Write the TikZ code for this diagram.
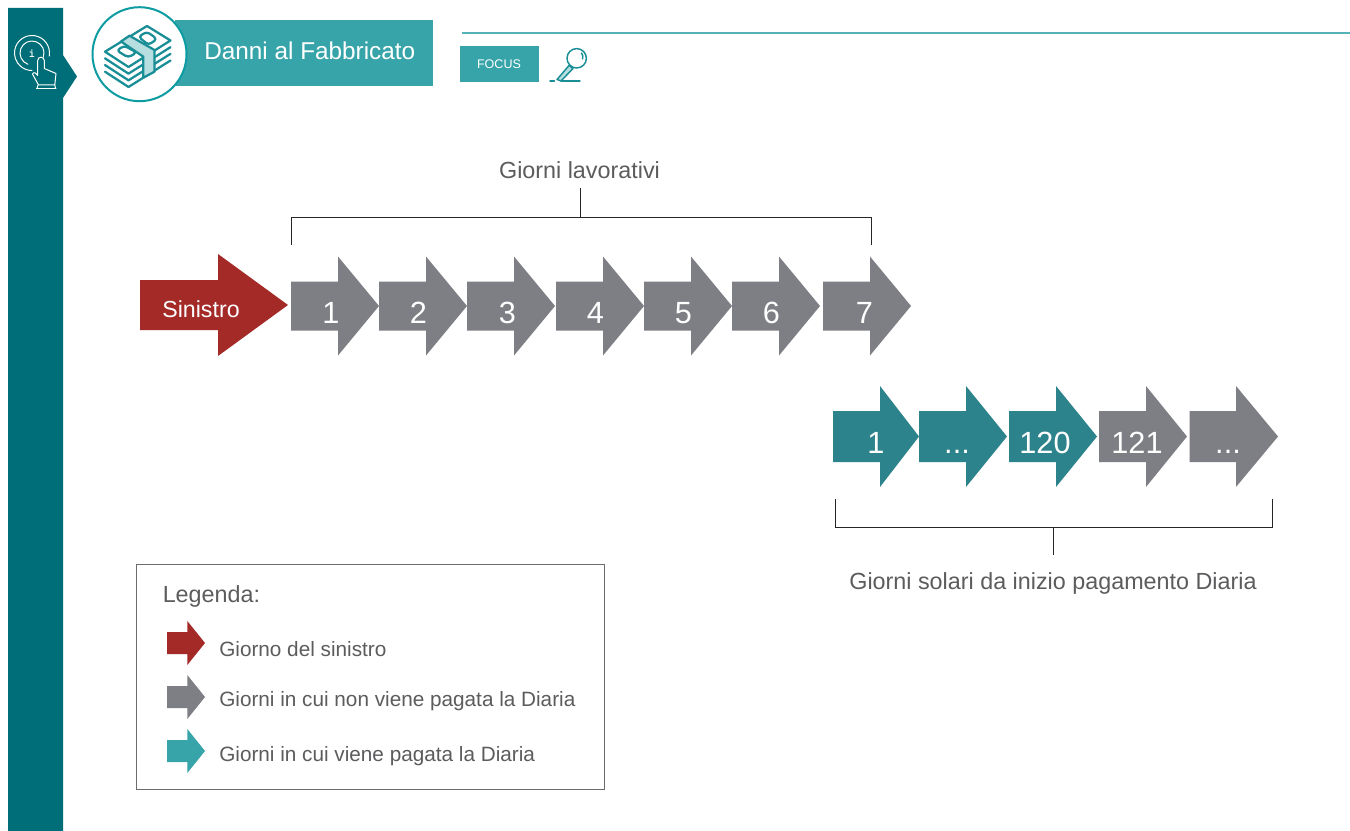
\documentclass[tikz,border=0pt]{standalone}
\usepackage{fontspec}
\setmainfont{Liberation Sans}
\definecolor{sidebar}{HTML}{006E78}
\definecolor{tealhead}{HTML}{36A4A9}
\definecolor{ringteal}{HTML}{0E9CA3}
\definecolor{darkline}{HTML}{1A8E96}
\definecolor{bandlight}{HTML}{B7DEE0}
\definecolor{arrred}{HTML}{A32A27}
\definecolor{arrgray}{HTML}{7E7F84}
\definecolor{arrteal}{HTML}{2D838B}
\definecolor{txtgray}{HTML}{5C5C5E}
\newcommand{\bigarrow}[8]{% name, x0, x1, headx, cy, bodyhalf, headhalf, colour
  \fill[#8] (#2,#5-#6) -- (#4,#5-#6) -- (#4,#5-#7) -- (#3,#5) -- (#4,#5+#7) -- (#4,#5+#6) -- (#2,#5+#6) -- cycle;
  \coordinate (#1) at (#2,#5);
}
\tikzset{
  arrowlabel/.style={text=white,font=\fontsize{23}{23}\selectfont,inner sep=0pt,anchor=base},
  caption/.style={text=txtgray,font=\fontsize{17.5}{20}\selectfont,inner sep=0pt,anchor=base},
  legendtext/.style={text=txtgray,font=\fontsize{15.55}{18}\selectfont,inner sep=0pt,anchor=base west},
  bracket/.style={draw=black!85,line width=0.7pt},
  icon/.style={draw=darkline,line width=1.7pt,line join=round,line cap=round}
}
\begin{document}
\begin{tikzpicture}[x=0.75pt,y=-0.75pt]
\useasboundingbox (0,0) rectangle (1350,831);
\fill[white] (0,0) rectangle (1350,831);
% side bar
\fill[sidebar] (8,8) -- (63,8) -- (63,55) -- (77,76.5) -- (63,98) -- (63,831) -- (8,831) -- cycle;
% info-hand icon
\begin{scope}[draw=white,line width=0.75pt,line cap=round,line join=round]
\draw (32,53) ++(10:17.5) arc[start angle=10,end angle=-270,radius=17.5];
\draw (32,53) ++(20:12) arc[start angle=20,end angle=-250,radius=12];
\draw (37.7,75.5) -- (37.7,60.5) arc[start angle=180,end angle=360,radius=3.3] -- (44.3,68.5)
 -- (56,73.5) -- (54.8,85) -- (38.5,85) -- (32.5,74) arc[start angle=200,end angle=330,radius=2] -- (37.7,75.5);
\draw (36.5,88.5) -- (56,88.5);
\draw (38,85) -- (37,88.5);
\draw (54.8,85) -- (55.5,88.5);
\end{scope}
\node[text=white,inner sep=0pt,font=\fontsize{9.5}{9.5}\ttfamily\bfseries] (infoi) at (32,53.5) {i};
% header
\fill[tealhead] (175,20) rectangle (433,86);
\node[text=white,font=\fontsize{18.25}{20}\selectfont,inner sep=0pt,anchor=base west] (title) at (204,60) {Danni al Fabbricato};
\fill[white] (139.5,54.2) circle[radius=47];
\draw[ringteal,line width=1.5pt] (139.5,54.2) circle[radius=47];
% money icon
\begin{scope}[icon]
\foreach \d in {20,40,60}{
  \draw (105,{51.7+\d/3}) -- (128.5,{67+\d/3}) -- (170.5,{40.5+\d/3});
}
\draw (105,51.7) -- (147,26) -- (170.5,40.5) -- (128.5,67) -- cycle;
\draw[rounded corners=2.5] (116.7,50.5) -- (124.3,45.7) -- (136.7,52.5) -- (128.3,57.5) -- cycle;
\draw[rounded corners=2.5] (138.5,36.7) -- (147,31.7) -- (157,39) -- (148.5,45) -- cycle;
\draw[fill=bandlight] (121,41.5) -- (129.5,35.7) -- (154.5,50) -- (154.5,71.7) -- (143.3,77.7) -- (143.3,56.7) -- cycle;
\end{scope}
% top rule and focus
\draw[tealhead!85,line width=1pt] (462,33) -- (1350,33);
\fill[tealhead] (460,46) rectangle (539,82);
\node[text=white,font=\fontsize{9.4}{10}\selectfont,inner sep=0pt] (focus) at (499,64.5) {FOCUS};
\begin{scope}[draw=darkline,line width=1.1pt,line cap=round,line join=round]
\draw (576.7,58.3) circle[radius=9.7];
\draw (581.5,53) arc[start angle=-40,end angle=20,radius=6];
\draw[fill=bandlight] (569,65.5) -- (557,79.5) -- (561,81) -- (573,68.5) -- cycle;
\draw (561,81) -- (580,81);
\draw (550,81) -- (554.5,81);
\end{scope}
% sinistro
\bigarrow{asin}{140}{288}{218}{305}{25}{51}{arrred}
\node[text=white,font=\fontsize{17.4}{18}\selectfont,inner sep=0pt,anchor=base] (lsin) at (201,317) {Sinistro};
% grey row
\bigarrow{a1}{291}{379}{338}{306}{24.5}{49.5}{arrgray}
\bigarrow{a2}{379}{467}{426}{306}{24.5}{49.5}{arrgray}
\bigarrow{a3}{467}{555}{514}{306}{24.5}{49.5}{arrgray}
\bigarrow{a4}{556}{644}{603}{306}{24.5}{49.5}{arrgray}
\bigarrow{a5}{644}{732}{691}{306}{24.5}{49.5}{arrgray}
\bigarrow{a6}{732}{820}{779}{306}{24.5}{49.5}{arrgray}
\bigarrow{a7}{823}{911}{870}{306}{24.5}{49.5}{arrgray}
\node[arrowlabel] (n1) at (331,323) {1};
\node[arrowlabel] (n2) at (418.5,323) {2};
\node[arrowlabel] (n3) at (507.5,323) {3};
\node[arrowlabel] (n4) at (595.5,323) {4};
\node[arrowlabel] (n5) at (683.5,323) {5};
\node[arrowlabel] (n6) at (771.5,323) {6};
\node[arrowlabel] (n7) at (864.5,323) {7};
% teal row
\bigarrow{b1}{833}{919}{880}{436.5}{25.5}{50.5}{arrteal}
\bigarrow{b2}{919}{1007}{966}{436.5}{25.5}{50.5}{arrteal}
\bigarrow{b3}{1009}{1097}{1056}{436.5}{25.5}{50.5}{arrteal}
\bigarrow{b4}{1099}{1187}{1146}{436.5}{25.5}{50.5}{arrgray}
\bigarrow{b5}{1189.5}{1278}{1236}{436.5}{25.5}{50.5}{arrgray}
\node[arrowlabel] (m1) at (876,453) {1};
\node[arrowlabel] (m2) at (957,453) {...};
\node[arrowlabel] (m3) at (1045,453) {120};
\node[arrowlabel] (m4) at (1137,453) {121};
\node[arrowlabel] (m5) at (1228,453) {...};
% brackets
\coordinate (tl) at (291,245); \coordinate (tr) at (871,245);
\coordinate (tm) at (580,217); \coordinate (tt) at (580,188);
\draw[bracket] (tl) |- (tr |- tm) -- (tr);
\draw[bracket] (tm) -- (tt);
\node[caption] (cap1) at (579.5,179) {Giorni lavorativi};
\coordinate (bl) at (835,499); \coordinate (br) at (1272,499);
\coordinate (bm) at (1053,527); \coordinate (bb) at (1053,555);
\draw[bracket] (bl) |- (br |- bm) -- (br);
\draw[bracket] (bm) -- (bb);
\node[caption] (cap2) at (1053,589) {Giorni solari da inizio pagamento Diaria};
% legend
\draw[draw=txtgray!90,line width=0.75pt] (136,564) rectangle (604,789);
\node[caption,anchor=base west] (leg) at (162.5,602) {Legenda:};
\bigarrow{l1}{167}{205}{187.3}{643}{11}{22}{arrred}
\bigarrow{l2}{167}{205}{187.3}{697}{11}{22}{arrgray}
\bigarrow{l3}{167}{205}{187.3}{751}{11}{22}{tealhead}
\node[legendtext] (t1) at (219,656) {Giorno del sinistro};
\node[legendtext] (t2) at (219,706) {Giorni in cui non viene pagata la Diaria};
\node[legendtext] (t3) at (219,761) {Giorni in cui viene pagata la Diaria};
\end{tikzpicture}
\end{document}
